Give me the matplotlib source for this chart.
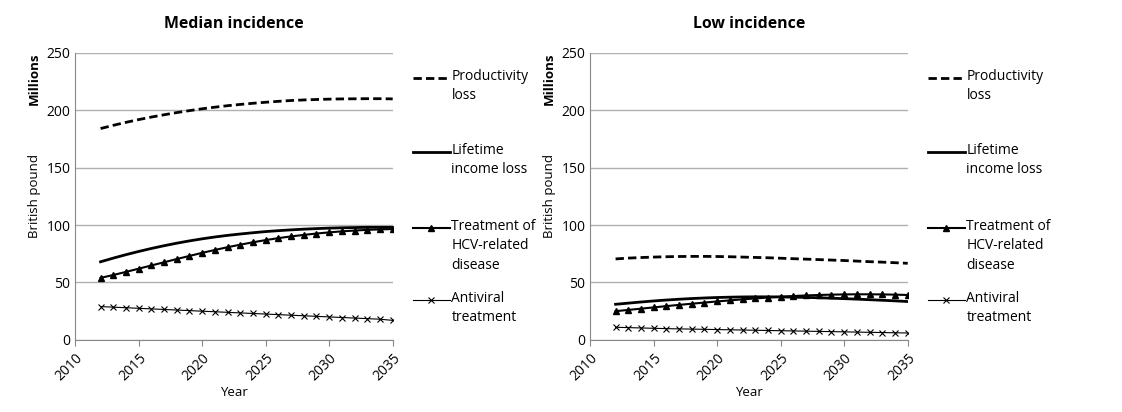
import numpy as np
import matplotlib
matplotlib.use("Agg")
import matplotlib.pyplot as plt

plt.rcParams['font.family'] = ['Open Sans', 'DejaVu Sans']
plt.rcParams['font.size'] = 9.5

years = list(range(2012, 2036))

# Median incidence (millions GBP)
med_prod = [184, 186.8, 189.4, 191.8, 194, 196, 197.9, 199.6, 201.2, 202.6, 203.9, 205, 206, 206.9, 207.7, 208.4, 208.9, 209.3, 209.6, 209.8, 209.9, 210, 210, 209.8]
med_life = [68, 71.2, 74.2, 77, 79.6, 82, 84.2, 86.2, 88, 89.6, 91, 92.2, 93.3, 94.3, 95.1, 95.8, 96.4, 96.9, 97.3, 97.6, 97.8, 98, 98, 98]
med_treat = [54, 56.5, 59.2, 62, 64.8, 67.6, 70.4, 73.1, 75.8, 78.3, 80.7, 82.9, 85, 86.9, 88.6, 90.1, 91.4, 92.6, 93.6, 94.5, 95.2, 95.8, 96.2, 96.5]
med_anti = [29, 28.5, 28, 27.5, 27, 26.5, 26, 25.5, 25, 24.5, 24, 23.5, 23, 22.5, 22, 21.5, 21, 20.5, 20, 19.5, 19, 18.5, 18, 17]

# Low incidence
low_prod = [70.5, 71.2, 71.7, 72.1, 72.4, 72.6, 72.7, 72.7, 72.6, 72.4, 72.1, 71.8, 71.5, 71.1, 70.7, 70.3, 69.9, 69.5, 69.1, 68.6, 68.1, 67.7, 67.2, 66.7]
low_life = [31, 32, 33, 33.9, 34.7, 35.4, 36, 36.5, 36.9, 37.2, 37.4, 37.5, 37.5, 37.4, 37.2, 37, 36.7, 36.3, 35.9, 35.5, 35, 34.5, 34, 33.4]
low_treat = [25, 26.1, 27.2, 28.3, 29.4, 30.5, 31.5, 32.5, 33.5, 34.4, 35.3, 36.1, 36.9, 37.6, 38.2, 38.7, 39.1, 39.4, 39.6, 39.7, 39.7, 39.6, 39.4, 39.1]
low_anti = [11, 10.7, 10.4, 10.1, 9.8, 9.6, 9.4, 9.2, 9, 8.8, 8.6, 8.4, 8.2, 8, 7.8, 7.6, 7.4, 7.2, 7, 6.8, 6.6, 6.4, 6.2, 6]

labels = ["Productivity\nloss", "Lifetime\nincome loss", "Treatment of\nHCV-related\ndisease", "Antiviral\ntreatment"]
styles = [dict(lw=2, ls=(0, (3, 1.5))), dict(lw=2), dict(lw=1.5, marker="^", ms=5),
          dict(lw=0.8, marker="x", ms=4, mew=0.8)]
legend_y = [0.913, 0.655, 0.39, 0.139]
panels = [("Median incidence", [med_prod, med_life, med_treat, med_anti]),
          ("Low incidence", [low_prod, low_life, low_treat, low_anti])]

fig = plt.figure(figsize=(11.22, 4.12), dpi=100)
lefts = [0.067, 0.526]

for left, (title, series) in zip(lefts, panels):
    ax = fig.add_axes([left, 0.175, 0.283, 0.697])
    for s, st in zip(series, styles):
        ax.plot(years, s, color="black", **st)
    ax.set_xlim(2010, 2035)
    ax.set_ylim(0, 250)
    ax.set_yticks(range(0, 251, 50))
    ax.set_xticks(range(2010, 2036, 5))
    ax.tick_params(axis="x", rotation=45, length=4, color="#888888", labelsize=10)
    ax.tick_params(axis="y", length=0, labelsize=10)
    for lab in ax.get_xticklabels():
        lab.set_ha("right")
        lab.set_rotation_mode("anchor")
    ax.grid(axis="y", color="#b0b0b0", lw=1)
    ax.set_axisbelow(True)
    for sp in ["top", "right"]:
        ax.spines[sp].set_visible(False)
    ax.spines["left"].set_color("#888888")
    ax.spines["bottom"].set_color("#888888")
    ax.set_xlabel("Year", labelpad=2)
    ax.set_ylabel("British pound", labelpad=4)
    ax.text(-0.13, 1.0, "Millions", transform=ax.transAxes, rotation=90,
            fontweight="bold", ha="center", va="top")
    ax.set_title(title, fontweight="bold", pad=18)
    # legend drawn by hand so the handle sits on the first text line
    for lab, st, y in zip(labels, styles, legend_y):
        if "marker" in st:
            ax.plot([1.063, 1.121, 1.179], [y, y, y], transform=ax.transAxes, color="black",
                    clip_on=False, markevery=[1], **st)
        else:
            ax.plot([1.063, 1.179], [y, y], transform=ax.transAxes, color="black",
                    clip_on=False, **st)
        ax.text(1.185, y + 0.032, lab, transform=ax.transAxes, ha="left", va="top",
                fontsize=10, linespacing=1.4)

fig.savefig("out.png", dpi=100)
